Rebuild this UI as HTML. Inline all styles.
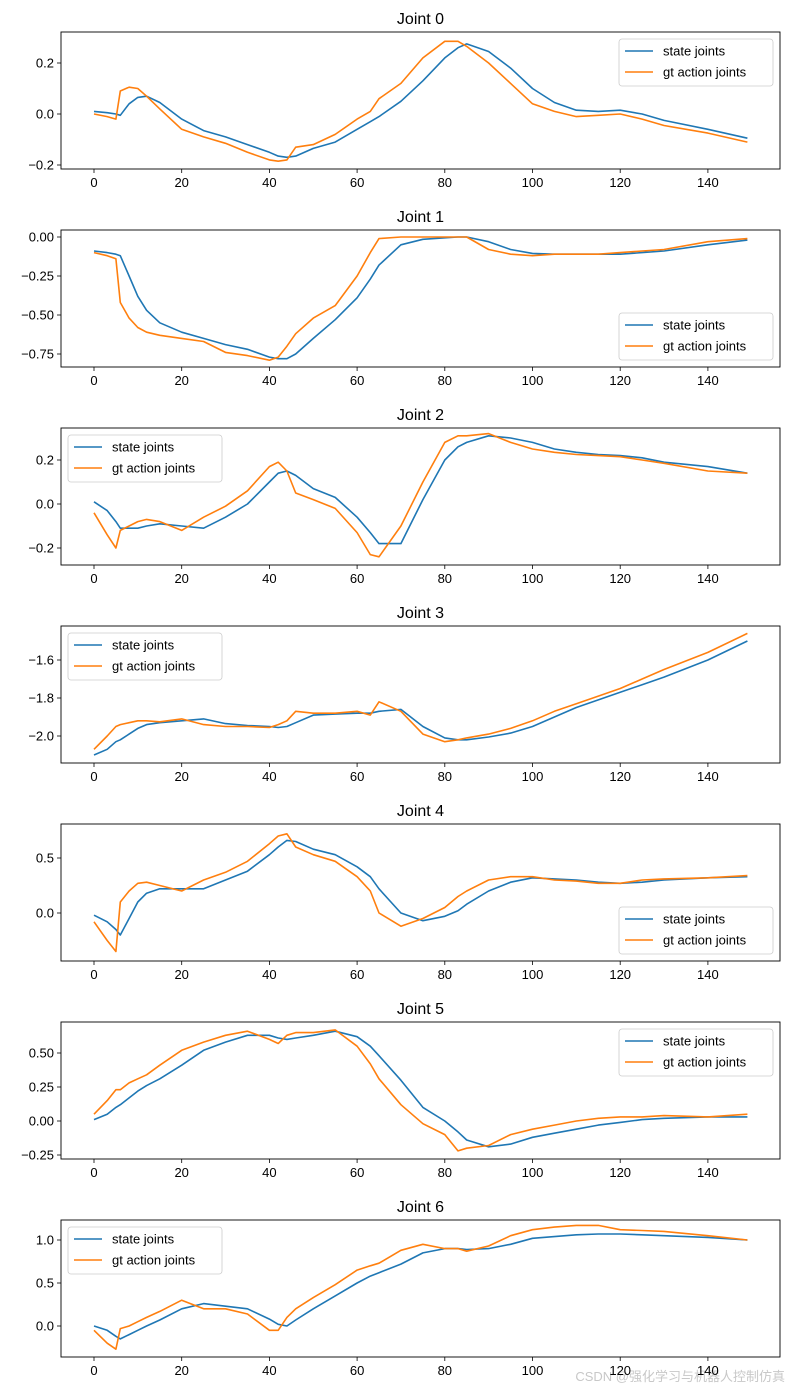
<!DOCTYPE html>
<html><head><meta charset="utf-8"><style>
body{margin:0;background:#fff;}
svg{display:block;font-family:"Liberation Sans","DejaVu Sans",sans-serif;}
</style></head><body>
<svg id="fig" width="790" height="1390" viewBox="0 0 790 1390" xmlns="http://www.w3.org/2000/svg">
<text x="785" y="1381" font-size="13" fill="#c8c8c8" text-anchor="end" font-family="Liberation Sans, Noto Sans CJK SC, sans-serif">CSDN @强化学习与机器人控制仿真</text>
</svg>
<script>
const xs=[0,3,5,6,8,10,12,15,20,25,30,35,40,42,44,46,50,55,60,63,65,70,75,80,83,85,90,95,100,105,110,115,120,125,130,140,149];
const xTicks=[0,20,40,60,80,100,120,140];
const j0State=[0.01,0.005,0,-0.005,0.04,0.065,0.07,0.045,-0.02,-0.065,-0.09,-0.12,-0.15,-0.165,-0.17,-0.165,-0.135,-0.11,-0.06,-0.03,-0.01,0.05,0.13,0.22,0.26,0.275,0.245,0.18,0.1,0.045,0.015,0.01,0.015,0.0,-0.025,-0.06,-0.095];
const j0Action=[0.0,-0.01,-0.02,0.09,0.105,0.1,0.07,0.02,-0.06,-0.09,-0.115,-0.15,-0.18,-0.185,-0.18,-0.13,-0.12,-0.08,-0.02,0.01,0.06,0.12,0.22,0.285,0.285,0.265,0.2,0.12,0.04,0.01,-0.01,-0.005,0.0,-0.02,-0.045,-0.075,-0.11];
const j1State=[-0.09,-0.1,-0.11,-0.12,-0.25,-0.38,-0.47,-0.55,-0.61,-0.65,-0.69,-0.72,-0.77,-0.78,-0.78,-0.75,-0.65,-0.53,-0.39,-0.27,-0.18,-0.05,-0.015,-0.005,0,0,-0.03,-0.08,-0.105,-0.11,-0.11,-0.11,-0.11,-0.1,-0.09,-0.05,-0.02];
const j1Action=[-0.1,-0.12,-0.14,-0.42,-0.52,-0.58,-0.61,-0.63,-0.65,-0.67,-0.74,-0.76,-0.79,-0.77,-0.7,-0.62,-0.52,-0.44,-0.25,-0.1,-0.01,0,0,0,0,0,-0.08,-0.11,-0.12,-0.11,-0.11,-0.11,-0.1,-0.09,-0.08,-0.03,-0.01];
const j2State=[0.01,-0.03,-0.08,-0.11,-0.11,-0.11,-0.1,-0.09,-0.1,-0.11,-0.06,0.0,0.1,0.14,0.15,0.13,0.07,0.03,-0.06,-0.13,-0.18,-0.18,0.02,0.2,0.26,0.28,0.31,0.3,0.28,0.25,0.235,0.225,0.22,0.21,0.19,0.17,0.14];
const j2Action=[-0.04,-0.14,-0.2,-0.12,-0.1,-0.08,-0.07,-0.08,-0.12,-0.06,-0.01,0.06,0.17,0.19,0.15,0.05,0.02,-0.02,-0.13,-0.23,-0.24,-0.1,0.1,0.28,0.31,0.31,0.32,0.28,0.25,0.235,0.225,0.22,0.215,0.2,0.185,0.15,0.14];
const j3State=[-2.1,-2.07,-2.03,-2.02,-1.99,-1.96,-1.94,-1.93,-1.92,-1.91,-1.935,-1.945,-1.95,-1.955,-1.95,-1.93,-1.89,-1.885,-1.88,-1.88,-1.87,-1.86,-1.95,-2.01,-2.02,-2.02,-2.005,-1.985,-1.95,-1.9,-1.85,-1.81,-1.77,-1.73,-1.69,-1.6,-1.5];
const j3Action=[-2.07,-2.0,-1.95,-1.94,-1.93,-1.92,-1.92,-1.925,-1.91,-1.94,-1.95,-1.95,-1.955,-1.94,-1.92,-1.87,-1.88,-1.88,-1.87,-1.89,-1.82,-1.87,-1.99,-2.03,-2.02,-2.01,-1.99,-1.96,-1.92,-1.87,-1.83,-1.79,-1.75,-1.7,-1.65,-1.56,-1.46];
const j4State=[-0.02,-0.08,-0.15,-0.2,-0.05,0.1,0.18,0.22,0.22,0.22,0.3,0.38,0.53,0.6,0.66,0.65,0.58,0.53,0.42,0.33,0.22,0.0,-0.07,-0.03,0.02,0.08,0.2,0.28,0.32,0.31,0.3,0.28,0.27,0.28,0.3,0.32,0.33];
const j4Action=[-0.08,-0.25,-0.35,0.1,0.2,0.27,0.28,0.25,0.2,0.3,0.37,0.47,0.63,0.7,0.72,0.6,0.53,0.47,0.33,0.2,0.0,-0.12,-0.05,0.05,0.15,0.2,0.3,0.33,0.33,0.3,0.29,0.27,0.27,0.3,0.31,0.32,0.34];
const j5State=[0.01,0.05,0.1,0.12,0.17,0.22,0.26,0.31,0.41,0.52,0.58,0.63,0.63,0.61,0.6,0.61,0.63,0.66,0.62,0.55,0.48,0.3,0.1,0.0,-0.08,-0.14,-0.19,-0.17,-0.12,-0.09,-0.06,-0.03,-0.01,0.01,0.02,0.03,0.03];
const j5Action=[0.05,0.15,0.23,0.23,0.28,0.31,0.34,0.41,0.52,0.58,0.63,0.66,0.6,0.57,0.63,0.65,0.65,0.67,0.55,0.42,0.31,0.12,-0.02,-0.1,-0.22,-0.2,-0.18,-0.1,-0.06,-0.03,0.0,0.02,0.03,0.03,0.04,0.03,0.05];
const j6State=[0.0,-0.05,-0.12,-0.15,-0.1,-0.05,0.0,0.07,0.2,0.26,0.23,0.2,0.08,0.02,0.0,0.07,0.2,0.35,0.5,0.58,0.62,0.72,0.85,0.9,0.9,0.89,0.9,0.95,1.02,1.04,1.06,1.07,1.07,1.06,1.05,1.03,1.0];
const j6Action=[-0.05,-0.2,-0.27,-0.03,0.0,0.05,0.1,0.17,0.3,0.2,0.2,0.14,-0.05,-0.05,0.1,0.2,0.33,0.48,0.65,0.7,0.73,0.88,0.95,0.9,0.9,0.87,0.93,1.05,1.12,1.15,1.17,1.17,1.12,1.11,1.1,1.05,1.0];
const yTicks0=[-0.2,0.0,0.2], yTicks1=[-0.75,-0.5,-0.25,0.0], yTicks2=[-0.2,0.0,0.2], yTicks3=[-2.0,-1.8,-1.6], yTicks4=[0.0,0.5], yTicks5=[-0.25,0.0,0.25,0.5], yTicks6=[0.0,0.5,1.0];

const NS="http://www.w3.org/2000/svg";
const svg=document.getElementById('fig');
function mk(tag,attrs,parent){const e=document.createElementNS(NS,tag);for(const k in attrs)e.setAttribute(k,attrs[k]);(parent||svg).appendChild(e);return e;}
const plots=[
 {t:"Joint 0",top:32,st:j0State,ac:j0Action,yt:yTicks0,va:0.2,pa:63,vb:-0.2,pb:165,dec:1,leg:"ur"},
 {t:"Joint 1",top:230,st:j1State,ac:j1Action,yt:yTicks1,va:0,pa:237,vb:-0.75,pb:354,dec:2,leg:"lr"},
 {t:"Joint 2",top:428,st:j2State,ac:j2Action,yt:yTicks2,va:0.2,pa:460,vb:-0.2,pb:548,dec:1,leg:"ul"},
 {t:"Joint 3",top:626,st:j3State,ac:j3Action,yt:yTicks3,va:-1.6,pa:660,vb:-2.0,pb:736,dec:1,leg:"ul"},
 {t:"Joint 4",top:824,st:j4State,ac:j4Action,yt:yTicks4,va:0.5,pa:858,vb:0,pb:913,dec:1,leg:"lr"},
 {t:"Joint 5",top:1022,st:j5State,ac:j5Action,yt:yTicks5,va:0.5,pa:1053,vb:-0.25,pb:1155,dec:2,leg:"ur"},
 {t:"Joint 6",top:1220,st:j6State,ac:j6Action,yt:yTicks6,va:1.0,pa:1240,vb:0,pb:1326,dec:1,leg:"ul"}
];
const L=61,R=780,H=137;
const xScale=v=>94+v*4.385;
plots.forEach((p,i)=>{
  const g=mk('g',{});
  
  
  const yScale=v=>p.pa+(v-p.va)*(p.pb-p.pa)/(p.vb-p.va);
  const B=p.top+H;
  const tt=mk('text',{x:(L+R)/2,y:p.top-8,'font-size':16,'text-anchor':'middle',fill:'#000'},g);
  tt.textContent=p.t;
  
  
  xTicks.forEach(v=>{
    const x=xScale(v);
    mk('line',{x1:x,x2:x,y1:B,y2:B+4,stroke:'#000','stroke-width':0.8},g);
    const t=mk('text',{x:x,y:B+18,'font-size':13,'text-anchor':'middle',fill:'#000'},g);
    t.textContent=v;
    
    
  });
  p.yt.forEach(v=>{
    const y=yScale(v);
    mk('line',{x1:L-4,x2:L,y1:y,y2:y,stroke:'#000','stroke-width':0.8},g);
    const t=mk('text',{x:L-7,y:y+4.5,'font-size':13,'text-anchor':'end',fill:'#000'},g);
    t.textContent=(v<0?'\u2212':'')+Math.abs(v).toFixed(p.dec);
    
    
  });
  [[p.st,'#1f77b4','state-line'],[p.ac,'#ff7f0e','action-line']].forEach(([arr,c,n])=>{
    const d=arr.map((v,k)=>(k?'L':'M')+xScale(xs[k]).toFixed(1)+','+yScale(v).toFixed(1)).join('');
    const pth=mk('path',{d:d,fill:'none',stroke:c,'stroke-width':1.6,'stroke-linejoin':'round'},g);
    
    
  });
  mk('rect',{x:L,y:p.top,width:R-L,height:H,fill:'none',stroke:'#000','stroke-width':0.9},g);
  const lw=154,lh=47;
  const lx=p.leg==='ul'?68:619;
  const ly=p.leg==='lr'?B-lh-7:p.top+7;
  const lg=mk('g',{},g);
  
  
  mk('rect',{x:lx,y:ly,width:lw,height:lh,rx:3,fill:'#fff','fill-opacity':0.8,stroke:'#ccc','stroke-width':0.8},lg);
  [['state joints','#1f77b4',0],['gt action joints','#ff7f0e',1]].forEach(([lab,c,k])=>{
    const yy=ly+12+k*21;
    mk('line',{x1:lx+6,x2:lx+34,y1:yy,y2:yy,stroke:c,'stroke-width':1.6},lg);
    const t=mk('text',{x:lx+44,y:yy+4.5,'font-size':13,fill:'#000'},lg);
    t.textContent=lab;
    
    
  });
});
</script>
</body></html>
